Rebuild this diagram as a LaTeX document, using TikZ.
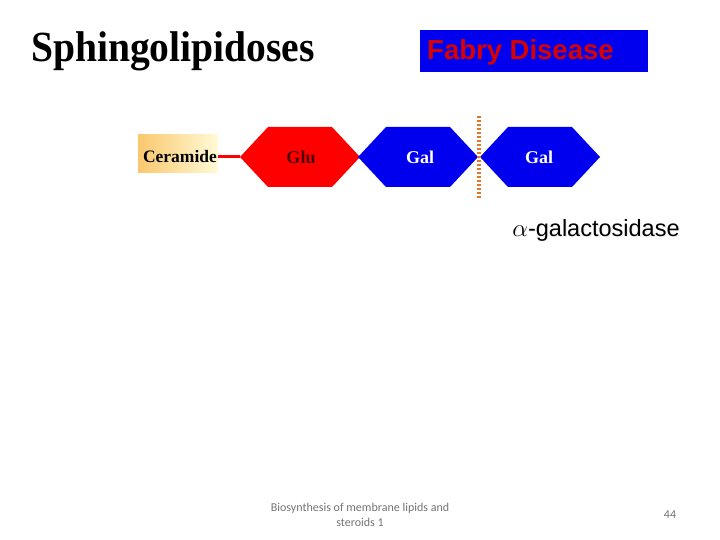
\documentclass[tikz,border=0pt]{standalone}
\usepackage{fontspec}
\setmainfont{Liberation Serif}
\setsansfont{Liberation Sans}
\newfontfamily\footfont{Carlito}
\newfontfamily\titlefont[FakeStretch=0.92]{Liberation Serif}
\begin{document}
\begin{tikzpicture}[x=1pt,y=-1pt,
  sugarlbl/.style={font=\bfseries\fontsize{18}{20}\selectfont},
  footlbl/.style={font=\footfont\fontsize{12}{14.5}\selectfont, text=black!55, align=center}]
\useasboundingbox (0,0) rectangle (720,540);
\definecolor{hexblue}{RGB}{0,0,238}
\definecolor{hexred}{RGB}{255,0,0}
\definecolor{dotorange}{RGB}{225,120,40}
\definecolor{ceramL}{RGB}{250,200,110}
\definecolor{ceramR}{RGB}{255,250,215}

% title
\node[anchor=base west, font=\titlefont\bfseries\fontsize{43}{46}\selectfont, inner sep=0pt] (title) at (31,62) {Sphingolipidoses};

% Fabry box
\fill[hexblue] (420,30) rectangle (648,72);
\node[anchor=base west, inner sep=0pt, text=red!85!black, font=\sffamily\bfseries\fontsize{27.5}{30}\selectfont] (fabry) at (427,60) {Fabry Disease};

% ceramide
\shade[left color=ceramL, right color=ceramR] (138,135) rectangle (218,173);
\node[anchor=base, font=\bfseries\fontsize{17.5}{19}\selectfont, inner sep=0pt] (cer) at (180,163) {Ceramide};
\coordinate (cerR) at (218,157);

% hexagons
\fill[hexred] (240,157) -- (268,127) -- (332,127) -- (360,157) -- (332,187) -- (268,187) -- cycle;
\fill[hexblue] (358,157) -- (386,127) -- (450,127) -- (478,157) -- (450,187) -- (386,187) -- cycle;
\fill[hexblue] (480,157) -- (508,127) -- (572,127) -- (600,157) -- (572,187) -- (508,187) -- cycle;
\coordinate (gluL) at (240,157);
\draw[hexred, line width=3pt] (cerR) -- (gluL);

\node[sugarlbl, text=red!30!black] (glu) at (301,157) {Glu};
\node[sugarlbl, text=white] (gal1) at (420,157) {Gal};
\node[sugarlbl, text=white] (gal2) at (539,157) {Gal};

% cleavage dotted line
\coordinate (cutT) at (479,116);
\coordinate (cutB) at (479,198);
\draw[dotorange, line width=3.5pt, dash pattern=on 2pt off 2pt] (cutT) -- (cutB);

% enzyme
\node[font=\sffamily\fontsize{23.5}{26}\selectfont, text=black!5, inner sep=0pt] at (597.5,231.5) {$\alpha$-galactosidase};
\node[font=\sffamily\fontsize{23.5}{26}\selectfont, inner sep=0pt] (enz) at (596,230) {$\alpha$-galactosidase};

% footer
\node[footlbl] (foot) at (360,515) {Biosynthesis of membrane lipids and\\steroids 1};
\node[footlbl] (page) at (670,515) {44};
\end{tikzpicture}
\end{document}
